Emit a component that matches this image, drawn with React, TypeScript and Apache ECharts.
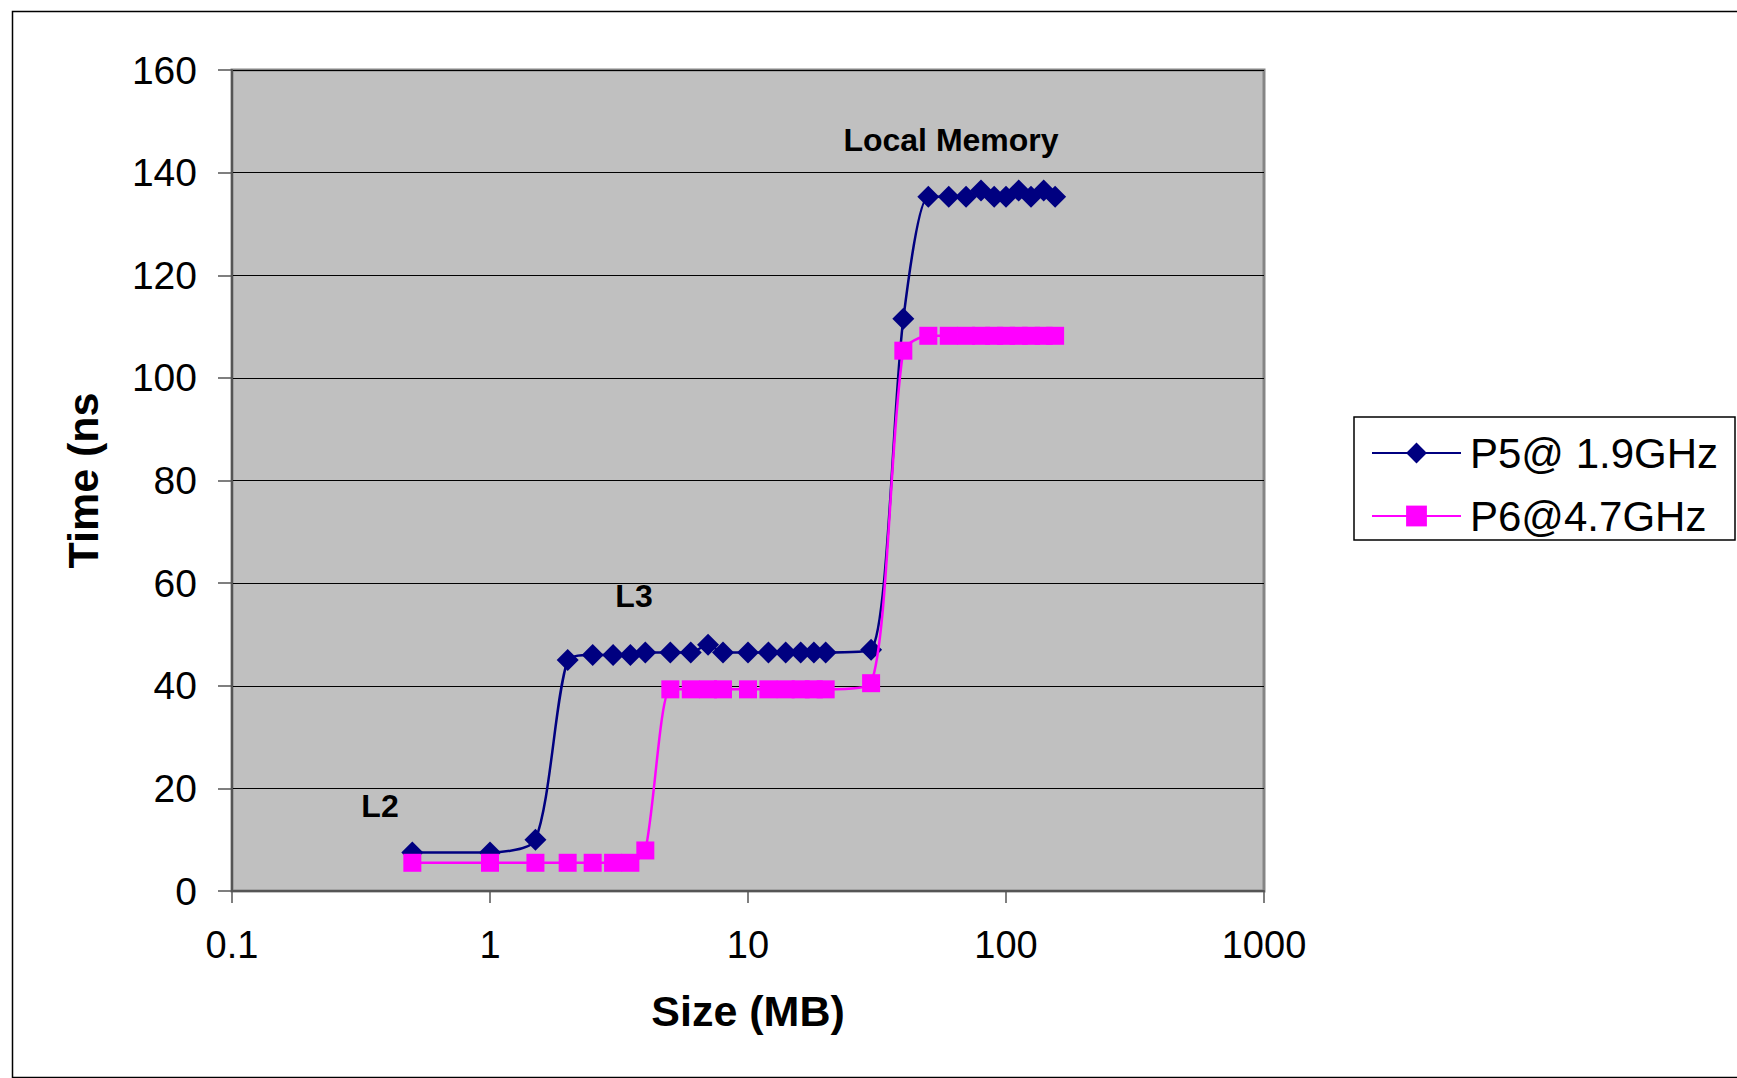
import React, { useEffect, useRef } from "react";
import * as echarts from "echarts";

// Sizes (MB) at which latency was measured
const sizesMB = [0.5, 1, 1.5, 2, 2.5, 3, 3.5, 4, 5, 6, 7, 8, 10, 12, 14, 16, 18, 20, 30, 40, 50, 60, 70, 80, 90, 100, 112, 125, 140, 155];

// P5@ 1.9GHz latency (ns)
const p5Times = [7.5, 7.5, 10, 45, 46, 46, 46, 46.5, 46.5, 46.5, 48, 46.5, 46.5, 46.5, 46.5, 46.5, 46.5, 46.5, 47, 111.5, 135.3, 135.3, 135.3, 136.5, 135.3, 135.3, 136.5, 135.3, 136.5, 135.3];

// P6@4.7GHz latency (ns)
const p6Times = [5.5, 5.5, 5.5, 5.5, 5.5, 5.5, 5.5, 7.9, 39.3, 39.3, 39.3, 39.3, 39.3, 39.3, 39.3, 39.3, 39.3, 39.3, 40.5, 105.3, 108.2, 108.2, 108.2, 108.2, 108.2, 108.2, 108.2, 108.2, 108.2, 108.2];

const seriesNames = ["P5@ 1.9GHz", "P6@4.7GHz"];
const annotations = ["L2", "L3", "Local Memory"];

const FONT = "'Liberation Sans', Arial, sans-serif";

export default function App() {
  const ref = useRef<HTMLDivElement>(null);

  useEffect(() => {
    document.body.style.margin = "0";
    const chart = echarts.init(ref.current!, null, { renderer: "svg" });
    const p5 = sizesMB.map((x, i) => [x, p5Times[i]]);
    const p6 = sizesMB.map((x, i) => [x, p6Times[i]]);

    chart.setOption({
      animation: false,
      backgroundColor: "#ffffff",
      textStyle: { fontFamily: FONT },
      grid: {
        left: 232,
        top: 70,
        right: 473,
        bottom: 187,
        show: true,
        backgroundColor: "#C0C0C0",
        borderColor: "#858585",
        borderWidth: 3,
      },
      xAxis: {
        type: "log",
        logBase: 10,
        min: 0.1,
        max: 1000,
        name: "Size (MB)",
        nameLocation: "middle",
        nameGap: 98,
        nameTextStyle: { fontSize: 43, fontWeight: "bold", color: "#000", fontFamily: FONT },
        axisLine: { show: true, lineStyle: { color: "#555", width: 2 } },
        axisTick: { show: true, inside: false, length: 12, lineStyle: { color: "#555", width: 1.5 } },
        minorTick: { show: false },
        splitLine: { show: false },
        axisLabel: {
          fontSize: 38,
          color: "#000",
          fontFamily: FONT,
          margin: 35,
          formatter: (v: number) => String(Number(v.toPrecision(6))),
        },
      },
      yAxis: {
        type: "value",
        min: 0,
        max: 160,
        interval: 20,
        name: "Time (ns",
        nameLocation: "middle",
        nameGap: 128,
        nameTextStyle: { fontSize: 43, fontWeight: "bold", color: "#000", fontFamily: FONT },
        axisLine: { show: true, lineStyle: { color: "#555", width: 2 } },
        axisTick: { show: true, inside: false, length: 14, lineStyle: { color: "#555", width: 1.5 } },
        splitLine: { show: true, lineStyle: { color: "#000", width: 1.2 } },
        axisLabel: { fontSize: 39, color: "#000", fontFamily: FONT, margin: 35 },
      },
      legend: {
        orient: "vertical",
        left: 1371,
        top: 432,
        padding: 0,
        itemWidth: 89,
        itemHeight: 26,
        itemGap: 21,
        data: seriesNames,
        textStyle: { fontSize: 42, color: "#000", fontFamily: FONT, lineHeight: 41, padding: [0, 0, 0, 4] },
      },
      graphic: [
        {
          type: "rect",
          left: 10,
          top: 9,
          shape: { width: 1760, height: 1066 },
          style: { fill: "none", stroke: "#000", lineWidth: 1.5 },
          silent: true,
          z: -10,
        },
        {
          type: "rect",
          shape: { x: 1354, y: 417, width: 381, height: 123 },
          style: { fill: "#fff", stroke: "#000", lineWidth: 1.5 },
          silent: true,
          z: -1,
        },
        {
          type: "text",
          x: 380,
          y: 806,
          style: { text: annotations[0], font: `bold 32px ${FONT}`, fill: "#000", textAlign: "center", textVerticalAlign: "middle" },
          z: 10,
        },
        {
          type: "text",
          x: 634,
          y: 596,
          style: { text: annotations[1], font: `bold 32px ${FONT}`, fill: "#000", textAlign: "center", textVerticalAlign: "middle" },
          z: 10,
        },
        {
          type: "text",
          x: 951,
          y: 140,
          style: { text: annotations[2], font: `bold 32px ${FONT}`, fill: "#000", textAlign: "center", textVerticalAlign: "middle" },
          z: 10,
        },
      ],
      series: [
        {
          name: seriesNames[0],
          type: "line",
          data: p5,
          smooth: 0.25,
          symbol: "diamond",
          symbolSize: [22, 22],
          showAllSymbol: true,
          color: "#000080",
          lineStyle: { color: "#000080", width: 2.5 },
          itemStyle: { color: "#000080" },
          z: 3,
        },
        {
          name: seriesNames[1],
          type: "line",
          data: p6,
          smooth: 0.25,
          symbol: "rect",
          symbolSize: 18,
          showAllSymbol: true,
          color: "#FF00FF",
          lineStyle: { color: "#FF00FF", width: 2.5 },
          itemStyle: { color: "#FF00FF" },
          z: 4,
        },
      ],
    });

    return () => chart.dispose();
  }, []);

  return (
    <div
      ref={ref}
      style={{ position: "fixed", left: 0, top: 0, width: 1737, height: 1078, background: "#fff" }}
    />
  );
}
